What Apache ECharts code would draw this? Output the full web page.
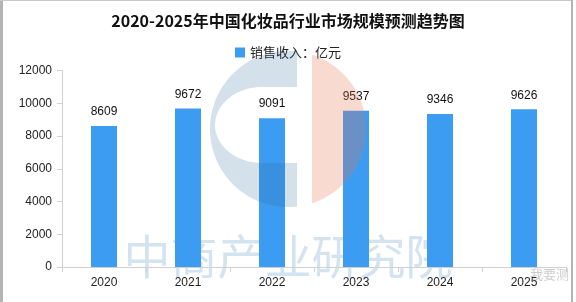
<!DOCTYPE html>
<html>
<head>
<meta charset="utf-8">
<script src="https://cdn.jsdelivr.net/npm/echarts@6/dist/echarts.min.js"></script>
<style>
html,body{margin:0;padding:0;background:#fff;}
#chart{width:576px;height:302px;}
</style>
</head>
<body>
<div id="chart"></div>
<script>
var titleText = '2020-2025年中国化妆品行业市场规模预测趋势图';
var seriesName = '销售收入：亿元';
var categories = ['2020', '2021', '2022', '2023', '2024', '2025'];
var salesValues = [8609, 9672, 9091, 9537, 9346, 9626];
var yTicks = [0, 2000, 4000, 6000, 8000, 10000, 12000];

// watermark logo geometry (decoration only)
function arcPts(cx, cy, rx, ry, a0, a1, n) {
  var pts = [];
  for (var i = 0; i <= n; i++) {
    var a = a0 + (a1 - a0) * i / n;
    pts.push([cx + rx * Math.cos(a), cy + ry * Math.sin(a)]);
  }
  return pts;
}
var LCX = 288, LCY = 129, LR = 78;
var aTop = Math.atan2(51.5 - LCY, 297 - LCX);
var aBot = Math.atan2(206.5 - LCY, 297 - LCX);
var bluePts = [[297, 51.5]]
  .concat(arcPts(LCX, LCY, LR, LR, aTop, aBot - 2 * Math.PI, 80).slice(1))
  .concat([[297, 163], [262, 163]])
  .concat(arcPts(262, 125, 47, 38, Math.PI / 2, 3 * Math.PI / 2, 40).slice(1))
  .concat([[297, 87]]);
var sTop = Math.atan2(54.8 - LCY, 312 - LCX);
var sBot = Math.atan2(203.2 - LCY, 312 - LCX);
var salmonPts = arcPts(LCX, LCY, LR, LR, sTop, sBot, 60);

var chart = echarts.init(document.getElementById('chart'));
var font = '"Noto Sans CJK SC", "Liberation Sans", sans-serif';
chart.setOption({
  animation: false,
  backgroundColor: '#fff',
  textStyle: { fontFamily: font },
  title: {
    text: titleText,
    left: 'center',
    top: 8,
    textStyle: { fontSize: 16, fontWeight: 'bold', color: '#111', fontFamily: font }
  },
  legend: {
    data: [seriesName],
    top: 41,
    left: 'center',
    itemWidth: 10,
    itemHeight: 10,
    icon: 'rect',
    itemGap: 6,
    textStyle: { fontSize: 13, color: '#222', fontFamily: font }
  },
  grid: { left: 62, right: 10, top: 70.5, bottom: 35, containLabel: false },
  xAxis: {
    type: 'category',
    data: categories,
    axisLine: { lineStyle: { color: '#d0d0d0' } },
    axisTick: { show: true, length: 5, lineStyle: { color: '#d0d0d0' } },
    axisLabel: { color: '#222', fontSize: 12, margin: 10, fontFamily: '"Liberation Sans", sans-serif' }
  },
  yAxis: {
    type: 'value',
    min: yTicks[0],
    max: yTicks[yTicks.length - 1],
    interval: yTicks[1] - yTicks[0],
    axisLine: { show: true, lineStyle: { color: '#d0d0d0' } },
    axisTick: { show: true, length: 5, lineStyle: { color: '#d0d0d0' } },
    splitLine: { show: false },
    axisLabel: { color: '#222', fontSize: 12, margin: 10, fontFamily: '"Liberation Sans", sans-serif',
                 formatter: function (v) { return String(v); } }
  },
  series: [{
    name: seriesName,
    type: 'bar',
    data: salesValues,
    barWidth: 26,
    itemStyle: { color: '#3c9cf2' },
    z: 2,
    label: {
      show: true,
      position: 'top',
      distance: 8,
      color: '#111',
      fontSize: 12,
      fontFamily: '"Liberation Sans", sans-serif'
    }
  }],
  graphic: [
    { type: 'text', z: 0, x: 288, y: 256,
      style: { text: '中商产业研究院', fontSize: 47, fill: '#d3e4f0', fontFamily: font,
               textAlign: 'center', textVerticalAlign: 'middle', align: 'center', verticalAlign: 'middle' } },
    { type: 'polygon', z: 20, silent: true,
      shape: { points: bluePts },
      style: { fill: 'rgba(40,100,150,0.2)' } },
    { type: 'polygon', z: 20, silent: true,
      shape: { points: salmonPts },
      style: { fill: 'rgba(230,120,80,0.27)' } },
    { type: 'text', z: 20, silent: true, x: 530, y: 268,
      style: { text: '我要测', fontSize: 13, fill: 'rgba(140,140,140,0.45)', fontFamily: font } },
    { type: 'rect', z: 30, shape: { x: 0, y: 0, width: 3, height: 302 }, style: { fill: '#b4b4b4' } },
    { type: 'rect', z: 30, shape: { x: 0, y: 0, width: 573, height: 1 }, style: { fill: '#c8c8c8' } },
    { type: 'rect', z: 30, shape: { x: 571, y: 0, width: 2, height: 302 }, style: { fill: '#b4b4b4' } }
  ]
});
</script>
</body>
</html>
